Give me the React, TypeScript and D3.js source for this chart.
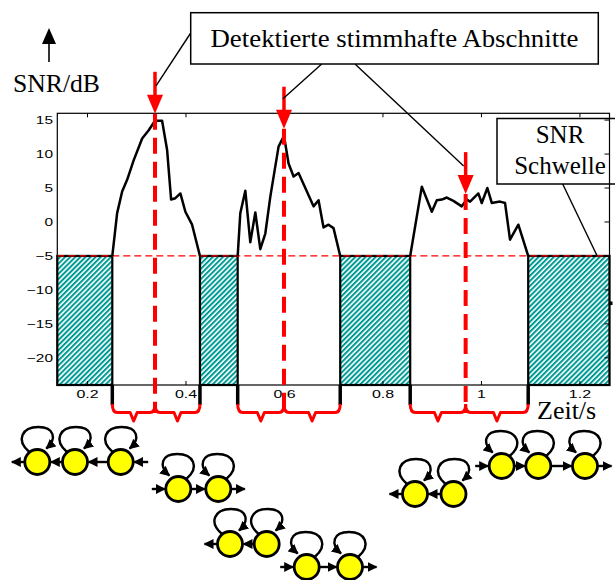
import React from 'react';
import * as d3 from 'd3';

// SNR curve of the three voiced sections, [time in s, SNR in dB]
const voiced1: [number, number][] = [
  [0.2504, -5], [0.2602, 1.3], [0.2704, 4.5], [0.2805, 6.2], [0.2939, 9.1],
  [0.311, 12.3], [0.3243, 13.5], [0.3371, 14.9], [0.3515, 14.9], [0.3617, 10.6],
  [0.3698, 3.3], [0.3785, 3.5], [0.3886, 4.2], [0.3988, 1.5], [0.4124, -0.4], [0.4284, -5],
];
const voiced2: [number, number][] = [
  [0.505, -5], [0.5103, 1.3], [0.5205, 4.6], [0.5306, -3.0], [0.5408, 1.4],
  [0.5509, -4.0], [0.5611, -1.7], [0.5712, 3.7], [0.588, 11.1], [0.599, 12.7],
  [0.6083, 8.6], [0.6185, 6.7], [0.6286, 7.2], [0.659, 2.3], [0.6692, 3.2],
  [0.6793, -0.8], [0.6895, -0.4], [0.6996, -0.9], [0.7132, -5],
];
const voiced3: [number, number][] = [
  [0.8553, -5], [0.8789, 5.2], [0.8992, 1.5], [0.9093, 3.2], [0.9195, 3.3],
  [0.9296, 3.6], [0.943, 3.1], [0.96, 2.3], [0.9702, 3.3], [0.9769, 3.0],
  [0.9937, 4.2], [1.0006, 2.8], [1.012, 5.0], [1.0209, 2.8], [1.0377, 3.0],
  [1.0479, 2.8], [1.058, -2.6], [1.0749, -0.4], [1.0949, -5],
];
const voicedSegments = [voiced1, voiced2, voiced3];
const detections = [0.3371, 0.599, 0.9679];
const threshold = -5;
const timeDomain: [number, number] = [0.1387, 1.26];
const snrDomain: [number, number] = [-24, 16];
const yTicks = [15, 10, 5, 0, -5, -10, -15, -20];
const xTicks = [0.2, 0.4, 0.6, 0.8, 1, 1.2];

// HMM chains under each half segment
const hmmStates = [3, 2, 2, 2, 2, 3];
const hmmForward = [false, true, false, true, false, true];
const hmmEntry = [true, true, false, true, false, true];

const RED = '#ff0000';
const TEAL = '#009a94';
const serif = '"Liberation Serif", "Times New Roman", serif';
const sans = '"Liberation Sans", Arial, sans-serif';

const L = 57.3, R = 609.5, T = 113.3, B = 385;
const x = d3.scaleLinear().domain(timeDomain).range([L, R]);
const y = d3.scaleLinear().domain(snrDomain).range([B, T]);
const line = d3.line<[number, number]>().x(d => x(d[0])).y(d => y(d[1]));

// layout of the state chains (pixels)
const hmmLayout = [
  { cx: [37.3, 75, 120.7], cy: 462 },
  { cx: [178.3, 218.3], cy: 489 },
  { cx: [230, 266.7], cy: 544 },
  { cx: [306.7, 350], cy: 567 },
  { cx: [415, 453.5], cy: 494 },
  { cx: [501.7, 538.3, 585], cy: 466 },
];

function valueAt(seg: [number, number][], t: number) {
  const i = d3.bisector((d: [number, number]) => d[0]).left(seg, t);
  const a = seg[Math.max(0, i - 1)], b = seg[Math.min(seg.length - 1, i)];
  if (a[0] === b[0]) return a[1];
  return a[1] + ((t - a[0]) / (b[0] - a[0])) * (b[1] - a[1]);
}

function brace(p: number, q: number) {
  const top = 404, mid = 412.5, tip = 421, r = 5, c = (p + q) / 2;
  return `M${p},${top} Q${p},${mid} ${p + r},${mid} L${c - 3.5},${mid} L${c},${tip} L${c + 3.5},${mid} L${q - r},${mid} Q${q},${mid} ${q},${top}`;
}

function Chain({ i }: { i: number }) {
  const { cx, cy } = hmmLayout[i];
  const n = hmmStates[i];
  const fwd = hmmForward[i];
  const r = 12.5;
  const arrows: [number, number][] = [];
  for (let k = 0; k < n - 1; k++) {
    arrows.push(fwd ? [cx[k] + r, cx[k + 1] - r - 1] : [cx[k + 1] - r, cx[k] + r + 1]);
  }
  if (fwd) {
    arrows.push([cx[n - 1] + r, cx[n - 1] + r + 14]);
    if (hmmEntry[i]) arrows.push([cx[0] - r - 14, cx[0] - r - 1]);
  } else {
    arrows.push([cx[0] - r, cx[0] - r - 13]);
    if (hmmEntry[i]) arrows.push([cx[n - 1] + r + 15, cx[n - 1] + r + 1]);
  }
  const s = fwd ? -1 : 1;
  return (
    <g>
      {arrows.map(([a, b], k) => (
        <line key={k} x1={a} x2={b} y1={cy} y2={cy} stroke="#000" strokeWidth={2.4} markerEnd="url(#head)" />
      ))}
      {cx.slice(0, n).map((c, k) => (
        <g key={k}>
          <path
            d={`M${c - 8 * s},${cy - 10} C${c - 22 * s},${cy - 22} ${c - 15 * s},${cy - 35} ${c + s},${cy - 35} C${c + 17 * s},${cy - 35} ${c + 20 * s},${cy - 23} ${c + 9 * s},${cy - 13.5}`}
            fill="none" stroke="#000" strokeWidth={2.4} markerEnd="url(#head)"
          />
          <circle cx={c} cy={cy} r={12.5} fill="#ffff00" stroke="#000" strokeWidth={2.8} />
        </g>
      ))}
    </g>
  );
}

export default function App() {
  const bounds = voicedSegments.flatMap(s => [s[0][0], s[s.length - 1][0]]);
  const unvoiced: [number, number][] = [
    [timeDomain[0], bounds[0]], [bounds[1], bounds[2]], [bounds[3], bounds[4]], [bounds[5], timeDomain[1]],
  ];
  const tips = detections.map((t, i) => y(valueAt(voicedSegments[i], t)) - 7);

  return (
    <svg width={615} height={580} style={{ position: 'absolute', left: 0, top: 0, background: '#fff' }}>
      <defs>
        <pattern id="hatch" patternUnits="userSpaceOnUse" width={3.6} height={10} patternTransform="rotate(45)">
          <rect width={2} height={10} fill={TEAL} />
        </pattern>
        <marker id="head" markerUnits="userSpaceOnUse" viewBox="0 0 10 10" refX={9} refY={5} markerWidth={10} markerHeight={11} orient="auto">
          <path d="M0,0 L10,5 L0,10 z" fill="#000" />
        </marker>
      </defs>

      {unvoiced.map(([a, b], i) => (
        <rect key={i} x={x(a)} y={y(threshold)} width={x(b) - x(a)} height={y(snrDomain[0]) - y(threshold)}
          fill="url(#hatch)" stroke="#000" strokeWidth={2.2} />
      ))}
      <line x1={L} x2={R} y1={y(threshold)} y2={y(threshold)} stroke={RED} strokeWidth={1.3} strokeDasharray="7 4" />
      {voicedSegments.map((s, i) => (
        <path key={i} d={line(s) || ''} fill="none" stroke="#000" strokeWidth={2.5} strokeLinejoin="round" />
      ))}

      {/* SNR Schwelle callout */}
      <rect x={497} y={118.5} width={126} height={65.5} fill="#fff" stroke="#000" strokeWidth={1.5} />
      <text x={560} y={143} textAnchor="middle" fontFamily={serif} fontSize={25}>SNR</text>
      <text x={560} y={174} textAnchor="middle" fontFamily={serif} fontSize={25}>Schwelle</text>
      <line x1={562.7} y1={184} x2={x(1.235)} y2={y(threshold)} stroke="#000" strokeWidth={1.4} />

      {/* frame and ticks */}
      <rect x={L} y={T} width={R - L} height={B - T} fill="none" stroke="#000" strokeWidth={1.2} />
      {xTicks.map(t => (
        <g key={t}>
          <line x1={x(t)} x2={x(t)} y1={T} y2={T + 4} stroke="#000" />
          <line x1={x(t)} x2={x(t)} y1={B} y2={B - 4} stroke="#000" />
          <text transform={`translate(${x(t)},398) scale(1.45,1)`} textAnchor="middle" fontFamily={sans} fontSize={11}>
            {d3.format('~g')(t)}
          </text>
        </g>
      ))}
      {yTicks.map(v => (
        <g key={v}>
          <line x1={R} x2={R - 5} y1={y(v)} y2={y(v)} stroke="#000" />
          <text transform={`translate(53,${y(v) + 4}) scale(1.4,1)`} textAnchor="end" fontFamily={sans} fontSize={11}>
            {d3.format('~g')(v)}
          </text>
        </g>
      ))}
      <rect x={609} y={301.5} width={3.5} height={3.5} fill="#000" />

      {/* section boundaries and braces */}
      {bounds.map((t, i) => (
        <line key={i} x1={x(t)} x2={x(t)} y1={B} y2={405} stroke="#000" strokeWidth={3.5} />
      ))}
      {voicedSegments.map((s, i) => {
        const a = x(s[0][0]), b = x(s[s.length - 1][0]), c = x(detections[i]);
        return (
          <g key={i} fill="none" stroke={RED} strokeWidth={3} strokeLinejoin="round">
            <path d={brace(a, c)} />
            <path d={brace(c, b)} />
          </g>
        );
      })}
      {detections.map((t, i) => (
        <g key={i}>
          <line x1={x(t)} x2={x(t)} y1={tips[i]} y2={413} stroke={RED} strokeWidth={4} strokeDasharray="16 8" />
          <line x1={x(t)} x2={x(t)} y1={tips[i] - 42} y2={tips[i] - 14} stroke={RED} strokeWidth={3.5} />
          <path d={`M${x(t) - 8},${tips[i] - 19} L${x(t) + 8},${tips[i] - 19} L${x(t)},${tips[i]} z`} fill={RED} />
        </g>
      ))}

      {/* title callout */}
      <line x1={190.7} y1={33} x2={x(detections[0]) + 1} y2={tips[0] - 28} stroke="#000" strokeWidth={1.4} />
      <line x1={321.7} y1={64} x2={x(detections[1]) - 1} y2={tips[1] - 30} stroke="#000" strokeWidth={1.4} />
      <line x1={355} y1={64} x2={x(detections[2]) - 2} y2={tips[2] - 28} stroke="#000" strokeWidth={1.4} />
      <rect x={190.7} y={12.7} width={407.6} height={51.3} fill="#fff" stroke="#000" strokeWidth={1.5} />
      <text x={394.5} y={47} textAnchor="middle" fontFamily={serif} fontSize={26}
        textLength={368} lengthAdjust="spacingAndGlyphs">Detektierte stimmhafte Abschnitte</text>

      {/* axis labels */}
      <line x1={49} x2={49} y1={40} y2={62} stroke="#000" strokeWidth={1.6} />
      <path d="M42,44 L56,44 L49,28 z" fill="#000" />
      <text x={13} y={92} fontFamily={serif} fontSize={25} textLength={87} lengthAdjust="spacingAndGlyphs">SNR/dB</text>
      <text x={537} y={419} fontFamily={serif} fontSize={26}>Zeit/s</text>

      {hmmStates.map((_, i) => <Chain key={i} i={i} />)}
    </svg>
  );
}
